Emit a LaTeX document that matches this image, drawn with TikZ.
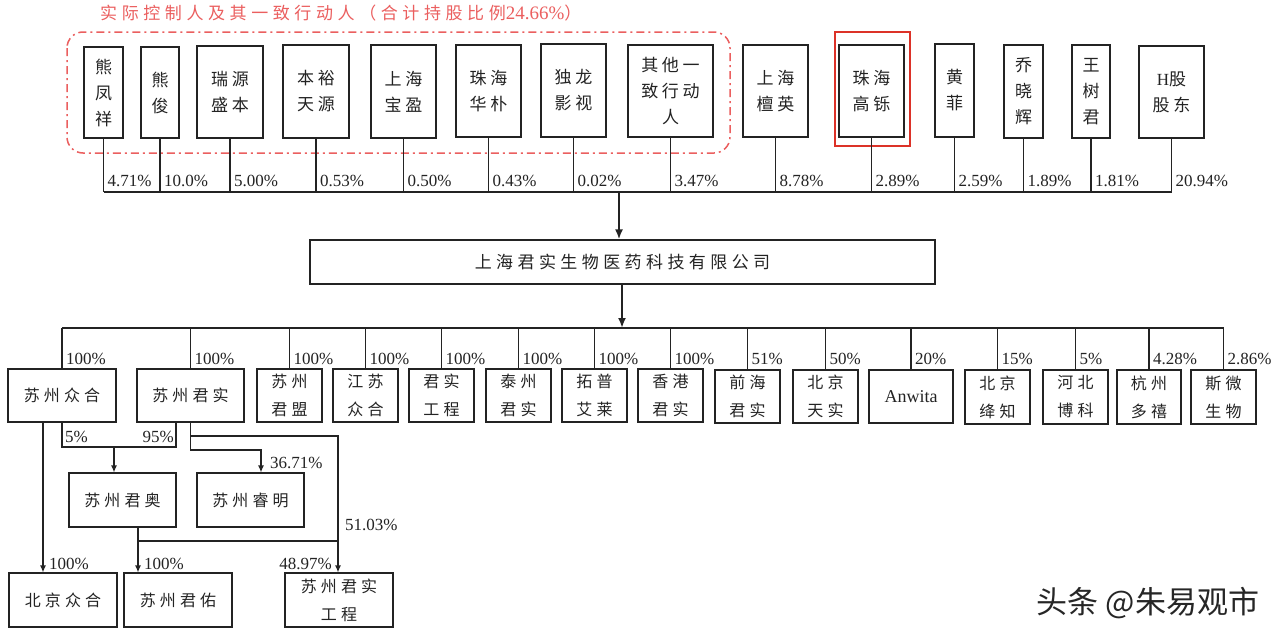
\documentclass[tikz,border=0pt]{standalone}
\usepackage{fontspec}
\setmainfont{Liberation Serif}
\newfontfamily\cjk[LetterSpace=22]{Noto Sans CJK SC}
\newfontfamily\cjkb[LetterSpace=26]{Noto Sans CJK SC}
\newfontfamily\cjkt[LetterSpace=27]{Noto Sans CJK SC}
\newfontfamily\cjkw{Noto Sans CJK SC}
\usetikzlibrary{arrows.meta}
\definecolor{hlred}{RGB}{220,50,40}
\definecolor{dred}{RGB}{235,95,95}
\definecolor{ln}{RGB}{35,35,35}
\newcommand\mkbox[7][]{\node[box,#1,minimum width={(#5-#3)*1pt},minimum height={(#6-#4)*1pt}] (#2) at ({(#3+#5)/2},{(#4+#6)/2}) {#7};}
\begin{document}
\begin{tikzpicture}[x=1pt,y=-1pt,
  box/.style={draw=ln, line width=1.2pt, inner sep=0pt, align=center, fill=white, text=ln},
  tbox/.style={font=\cjk\fontsize{17}{26}\selectfont},
  bbox/.style={font=\cjkb\fontsize{16}{28}\selectfont},
  mbox/.style={font=\cjkb\fontsize{17}{20}\selectfont},
  pct/.style={font=\fontsize{17}{17}\selectfont, inner sep=0pt, anchor=base west, text=ln},
  conn/.style={draw=ln, line width=1.2pt},
  arr/.style={conn, line width=2pt, -{Latex[length=10pt,width=8pt]}},
  sarr/.style={conn, -{Latex[length=7pt,width=6pt]}}]
\useasboundingbox (0,0) rectangle (1284,640);
\fill[white] (0,0) rectangle (1284,640);

% title and group frame
\node[font=\cjkt\fontsize{17}{17}\selectfont, text=dred, anchor=west, inner sep=0pt] (title) at (100,13) {实际控制人及其一致行动人（合计持股比例{\rmfamily\fontsize{19}{19}\selectfont 24.66\%}）};
\draw[dred, line width=1.5pt, rounded corners=16pt, dash pattern=on 8pt off 4pt on 2pt off 4pt] (67,32) rectangle (730,153);

% top row shareholders
\mkbox[tbox]{tb1}{84}{47}{123}{138}{熊\\凤\\祥}
\mkbox[tbox]{tb2}{141}{47}{179}{138}{熊\\俊}
\mkbox[tbox]{tb3}{197}{46}{263}{138}{瑞源\\盛本}
\mkbox[tbox]{tb4}{283}{45}{349}{138}{本裕\\天源}
\mkbox[tbox]{tb5}{371}{45}{436}{138}{上海\\宝盈}
\mkbox[tbox]{tb6}{456}{45}{521}{137}{珠海\\华朴}
\mkbox[tbox]{tb7}{541}{44}{606}{137}{独龙\\影视}
\mkbox[tbox]{tb8}{628}{45}{713}{137}{其他一\\致行动\\人}
\mkbox[tbox]{tb9}{743}{45}{808}{137}{上海\\檀英}
\mkbox[tbox]{tb10}{839}{45}{904}{137}{珠海\\高铄}
\mkbox[tbox]{tb11}{935}{44}{974}{137}{黄\\菲}
\mkbox[tbox]{tb12}{1004}{45}{1043}{138}{乔\\晓\\辉}
\mkbox[tbox]{tb13}{1072}{45}{1110}{138}{王\\树\\君}
\mkbox[tbox]{tb14}{1139}{46}{1204}{138}{{\rmfamily H}股\\股东}
\draw[hlred, line width=2.5pt] (835,32) rectangle (910,146);

\coordinate (bus) at (0,192);
\coordinate (pl) at (0,186);
\foreach \n/\t in {tb1/4.71,tb2/10.0,tb3/5.00,tb4/0.53,tb5/0.50,tb6/0.43,tb7/0.02,tb8/3.47,tb9/8.78,tb10/2.89,tb11/2.59,tb12/1.89,tb13/1.81,tb14/20.94}{
  \draw[conn] (\n.south) -- (\n.south |- bus);
  \node[pct, xshift=4pt] at (\n.south |- pl) {\t\%};
}
\draw[conn] (tb1.south |- bus) -- (tb14.south |- bus);

% main company
\mkbox[mbox]{main}{310}{240}{935}{284}{上海君实生物医药科技有限公司}
\coordinate (tarr) at (619,192);
\draw[arr] (tarr) -- (tarr |- main.north);

% subsidiaries
\mkbox[bbox]{b1}{8}{369}{116}{422}{苏州众合}
\mkbox[bbox]{b2}{137}{369}{244}{422}{苏州君实}
\mkbox[bbox]{b3}{257}{369}{322}{422}{苏州\\君盟}
\mkbox[bbox]{b4}{333}{369}{398}{422}{江苏\\众合}
\mkbox[bbox]{b5}{409}{369}{474}{422}{君实\\工程}
\mkbox[bbox]{b6}{486}{369}{551}{422}{泰州\\君实}
\mkbox[bbox]{b7}{562}{369}{627}{422}{拓普\\艾莱}
\mkbox[bbox]{b8}{638}{369}{703}{422}{香港\\君实}
\mkbox[bbox]{b9}{715}{370}{780}{423}{前海\\君实}
\mkbox[bbox]{b10}{793}{370}{858}{423}{北京\\天实}
\mkbox[bbox,font=\fontsize{18}{18}\selectfont]{b11}{869}{370}{953}{423}{Anwita}
\mkbox[bbox]{b12}{965}{370}{1030}{424}{北京\\绛知}
\mkbox[bbox]{b13}{1043}{370}{1108}{424}{河北\\博科}
\mkbox[bbox]{b14}{1117}{370}{1181}{424}{杭州\\多禧}
\mkbox[bbox]{b15}{1191}{370}{1256}{424}{斯微\\生物}

\coordinate (bbus) at (0,328);
\coordinate (pl2) at (0,364);
\coordinate (barr) at (622,328);
\draw[arr] (barr |- main.south) -- (barr);
\foreach \n/\t in {b1/100,b2/100,b3/100,b4/100,b5/100,b6/100,b7/100,b8/100,b9/51,b10/50,b11/20,b12/15,b13/5,b14/4.28,b15/2.86}{
  \draw[conn] (\n.north |- bbus) -- (\n.north);
  \node[pct, xshift=4pt] at (\n.north |- pl2) {\t\%};
}
\draw[conn] (b1.north |- bbus) -- (b15.north |- bbus);

% lower level
\mkbox[bbox]{c1}{69}{473}{176}{527}{苏州君奥}
\mkbox[bbox]{c2}{197}{473}{304}{527}{苏州睿明}
\mkbox[bbox]{d1}{9}{573}{117}{627}{北京众合}
\mkbox[bbox]{d2}{124}{573}{232}{627}{苏州君佑}
\mkbox[bbox]{d3}{285}{573}{393}{627}{苏州君实\\工程}

\coordinate (brk) at (114,447);
\coordinate (r2) at ([xshift=-14.5pt]b2.south);
\draw[conn] (b1.south) |- (brk) -| (r2);
\draw[sarr] (brk) -- (brk |- c1.north);
\node[pct] at (65,442) {5\%};
\node[pct, anchor=base east] at (174,442) {95\%};

\coordinate (zx) at ([xshift=-19pt]b1.south);
\draw[sarr] (zx) -- (zx |- d1.north);
\node[pct] at (49,569) {100\%};

\coordinate (k1) at (261,450);
\draw[sarr] (b2.south) |- (k1) -- (k1 |- c2.north);
\node[pct] at (270,468) {36.71\%};

\coordinate (k2) at (338,436);
\draw[sarr] (b2.south) |- (k2) -- (k2 |- d3.north);
\node[pct] at (345,530) {51.03\%};

\coordinate (k3) at (138,541);
\draw[sarr] (c1.south -| k3) -- (d2.north -| k3);
\draw[conn] (k3) -- (k3 -| k2);
\node[pct] at (144,569) {100\%};
\node[pct, anchor=base east] at (332,569) {48.97\%};

% watermark
\node[font=\cjkw\fontsize{31}{31}\selectfont, text=black!85] (wm) at (1148,603) {头条 @朱易观市};
\end{tikzpicture}
\end{document}
